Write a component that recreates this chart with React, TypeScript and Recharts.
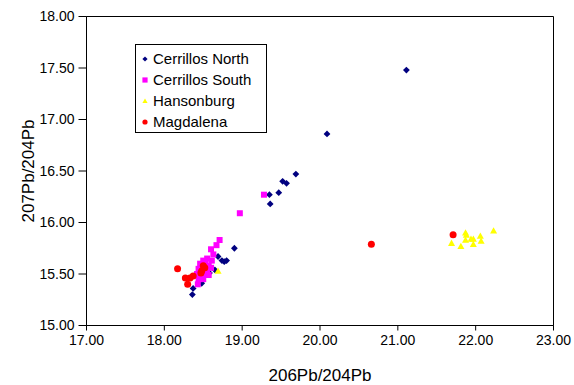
import React from 'react'
import { ScatterChart, Scatter, XAxis, YAxis, ReferenceArea, Legend } from 'recharts'

// 206Pb/204Pb vs 207Pb/204Pb
const northPts: [number, number][] = [
  [21.11, 17.48], [20.09, 16.86], [19.69, 16.47], [19.57, 16.38], [19.52, 16.4],
  [19.47, 16.29], [19.35, 16.27], [19.36, 16.18], [18.9, 15.75], [18.69, 15.67],
  [18.74, 15.63], [18.8, 15.63], [18.77, 15.62], [18.65, 15.54], [18.58, 15.51],
  [18.48, 15.41], [18.37, 15.36], [18.36, 15.3],
]

const southPts: [number, number][] = [
  [19.28, 16.27], [18.97, 16.09], [18.71, 15.83], [18.67, 15.78], [18.6, 15.74],
  [18.63, 15.69], [18.55, 15.65], [18.5, 15.63], [18.61, 15.63], [18.46, 15.6],
  [18.57, 15.58], [18.44, 15.55], [18.55, 15.53], [18.42, 15.5], [18.5, 15.49],
  [18.57, 15.49], [18.44, 15.45], [18.5, 15.45], [18.43, 15.4], [18.53, 15.6],
  [18.6, 15.56],
]

const hansonburgPts: [number, number][] = [
  [18.69, 15.53], [21.69, 15.8], [21.81, 15.77], [21.87, 15.9], [21.87, 15.83],
  [21.94, 15.84], [21.97, 15.84], [21.97, 15.79], [22.06, 15.87], [22.07, 15.82],
  [22.23, 15.92], [21.88, 15.88],
]

const magdalenaPts: [number, number][] = [
  [18.17, 15.55], [18.27, 15.46], [18.33, 15.46], [18.37, 15.48], [18.3, 15.4],
  [18.48, 15.53], [18.52, 15.56], [18.47, 15.51], [18.5, 15.58], [20.66, 15.79],
  [21.71, 15.88],
]

const xTicks = [17, 18, 19, 20, 21, 22, 23]
const yTicks = [15, 15.5, 16, 16.5, 17, 17.5, 18]

const FONT = '"Liberation Sans", Arial, sans-serif'

const toRows = (pts: [number, number][]) => pts.map(([x, y]) => ({ x, y }))

const Diamond = ({ cx, cy, fill, r = 3.4 }: any) => (
  <path d={`M${cx},${cy - r}L${cx + r},${cy}L${cx},${cy + r}L${cx - r},${cy}Z`} fill={fill} />
)
const Square = ({ cx, cy, fill, r = 3 }: any) => (
  <rect x={cx - r} y={cy - r} width={r * 2} height={r * 2} fill={fill} />
)
const Triangle = ({ cx, cy, fill, r = 3.5 }: any) => (
  <path d={`M${cx},${cy - r}L${cx + r},${cy + r * 0.8}L${cx - r},${cy + r * 0.8}Z`} fill={fill} />
)
const Dot = ({ cx, cy, fill, r = 3.5 }: any) => <circle cx={cx} cy={cy} r={r} fill={fill} />

const series = [
  { name: 'Cerrillos North', color: '#000080', pts: northPts, Shape: Diamond },
  { name: 'Cerrillos South', color: '#FF00FF', pts: southPts, Shape: Square },
  { name: 'Hansonburg', color: '#FFFF00', pts: hansonburgPts, Shape: Triangle },
  { name: 'Magdalena', color: '#FF0000', pts: magdalenaPts, Shape: Dot },
]

const LegendBox = () => (
  <div
    style={{
      width: 130,
      height: 84,
      border: '1px solid #000',
      background: '#fff',
      fontFamily: FONT,
      fontSize: 15,
      color: '#000',
      paddingTop: 3,
      boxSizing: 'content-box',
    }}
  >
    {series.map(s => (
      <div key={s.name} style={{ display: 'flex', alignItems: 'center', height: 21, lineHeight: '21px' }}>
        <svg width={17} height={21}>
          <s.Shape cx={9} cy={11} fill={s.color} r={2.6} />
        </svg>
        <span>{s.name}</span>
      </div>
    ))}
  </div>
)

const fmt = (v: number) => v.toFixed(2)

export default function App() {
  return (
    <div style={{ position: 'absolute', left: 0, top: 0, width: 574, height: 385, background: '#fff' }}>
      <ScatterChart
        width={574}
        height={385}
        margin={{ top: 16.5, right: 20.5, bottom: 0, left: 16.5 }}
        style={{ fontFamily: FONT }}
      >
        <XAxis
          type="number"
          dataKey="x"
          domain={[17, 23]}
          ticks={xTicks}
          tickFormatter={fmt}
          height={59.5}
          tickSize={5}
          tickMargin={5}
          stroke="#000"
          tick={{ fill: '#000', fontSize: 14 }}
          interval={0}
          label={{ value: '206Pb/204Pb', position: 'center', dy: 20, fill: '#000', fontSize: 17 }}
        />
        <YAxis
          type="number"
          dataKey="y"
          domain={[15, 18]}
          ticks={yTicks}
          tickFormatter={fmt}
          width={70}
          tickSize={8}
          tickMargin={4}
          stroke="#000"
          tick={{ fill: '#000', fontSize: 14 }}
          interval={0}
          label={{ value: '207Pb/204Pb', position: 'center', angle: -90, dx: -24, fill: '#000', fontSize: 17 }}
        />
        <ReferenceArea x1={17} x2={23} y1={15} y2={18} fill="none" stroke="#000" strokeWidth={1} />
        <Legend
          layout="vertical"
          align="center"
          verticalAlign="middle"
          content={<LegendBox />}
          wrapperStyle={{ left: 135, top: 44, width: 132, height: 88 }}
        />
        {series.map(s => (
          <Scatter
            key={s.name}
            name={s.name}
            data={toRows(s.pts)}
            fill={s.color}
            shape={(p: any) => <s.Shape cx={p.cx} cy={p.cy} fill={s.color} />}
            isAnimationActive={false}
          />
        ))}
      </ScatterChart>
    </div>
  )
}
